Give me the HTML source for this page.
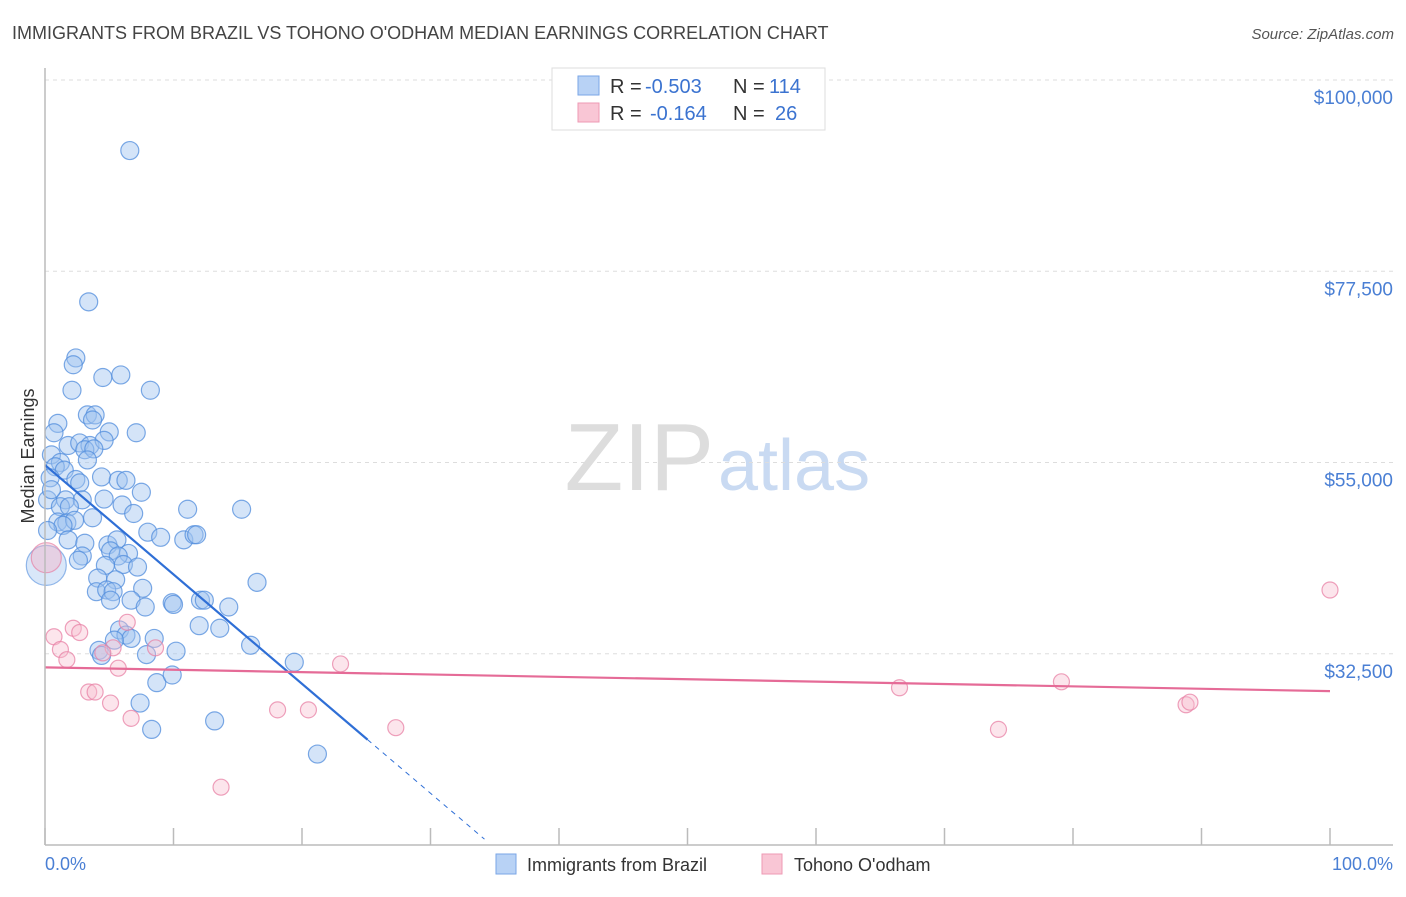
<!DOCTYPE html>
<html><head><meta charset="utf-8"><style>
body{margin:0;background:#fff;font-family:"Liberation Sans",sans-serif;}
svg text{font-family:"Liberation Sans",sans-serif;}
</style></head><body>
<svg id="chart" width="1406" height="892" xmlns="http://www.w3.org/2000/svg">
<text x="12" y="39" font-size="18" fill="#444">IMMIGRANTS FROM BRAZIL VS TOHONO O'ODHAM MEDIAN EARNINGS CORRELATION CHART</text>
<text x="1394" y="39" font-size="15" fill="#555" text-anchor="end" font-style="italic">Source: ZipAtlas.com</text>
<text x="714" y="490" font-size="96" fill="#ddd" text-anchor="end" font-family="Liberation Serif">ZIP</text>
<text x="718" y="490" font-size="72" fill="#c9daf2">atlas</text>
<g id="grid"></g><g id="pts"></g><g id="trend"></g>
<line x1="45" y1="68" x2="45" y2="845" stroke="#bbb" stroke-width="1.5"/>
<line x1="45" y1="845" x2="1393" y2="845" stroke="#bbb" stroke-width="1.5"/>
<g id="xticks"></g>
<text transform="translate(34,456) rotate(-90)" font-size="18" fill="#333" text-anchor="middle">Median Earnings</text>
<text x="45" y="870" font-size="18" fill="#4a7fd4">0.0%</text>
<text x="1393" y="870" font-size="18" fill="#4a7fd4" text-anchor="end">100.0%</text>
<g>
<rect x="552" y="68" width="273" height="62" fill="#fff" stroke="#ddd"/>
<rect x="578" y="76" width="21" height="19" fill="#b8d2f5" stroke="#7aa6e6"/>
<rect x="578" y="103" width="21" height="19" fill="#f9c6d5" stroke="#ee9ab4"/>
<text x="610" y="93" font-size="20" fill="#333">R =</text>
<text x="645" y="93" font-size="20" fill="#3b73d0">-0.503</text>
<text x="733" y="93" font-size="20" fill="#333">N =</text>
<text x="769" y="93" font-size="20" fill="#3b73d0">114</text>
<text x="610" y="120" font-size="20" fill="#333">R =</text>
<text x="650" y="120" font-size="20" fill="#3b73d0">-0.164</text>
<text x="733" y="120" font-size="20" fill="#333">N =</text>
<text x="775" y="120" font-size="20" fill="#3b73d0">26</text>
</g>
<g><rect x="496" y="854" width="20" height="20" fill="#b8d2f5" stroke="#7aa6e6"/><text x="527" y="871" font-size="18" fill="#333">Immigrants from Brazil</text></g>
<g><rect x="762" y="854" width="20" height="20" fill="#f9c6d5" stroke="#ee9ab4"/><text x="794" y="871" font-size="18" fill="#333">Tohono O'odham</text></g>
</svg>
<script>
const yTicks=[32500,55000,77500,100000];
const yTickLabels=["$32,500","$55,000","$77,500","$100,000"];
const xTicks=[0,10,20,30,40,50,60,70,80,90,100];
const brazilX=[6.6,3.4,2.4,2.2,4.5,5.9,2.1,8.2,1.0,3.3,3.9,3.7,0.7,5.0,7.1,1.8,2.7,3.5,4.6,3.1,3.8,0.5,1.2,3.3,0.8,1.5,0.4,2.4,2.7,4.4,5.7,6.3,7.5,0.2,1.6,2.9,4.6,1.2,1.9,6.0,11.1,15.3,6.9,3.7,1.0,1.7,2.3,1.4,8.0,9.0,10.8,11.6,11.8,1.8,3.1,4.9,5.6,5.1,6.5,2.9,2.6,5.7,4.7,6.1,7.2,4.1,5.5,16.5,4.0,4.8,5.3,7.6,5.1,6.7,9.9,10.0,12.1,12.4,7.8,14.3,12.0,13.6,5.8,6.3,6.7,8.5,5.4,16.0,4.2,4.4,7.9,10.2,19.4,8.7,9.9,7.4,8.3,13.2,21.2,0.2,0.5];
const brazilY=[91700,73900,67300,66500,65000,65300,63500,63500,59600,60600,60600,60000,58500,58600,58500,57000,57300,57000,57600,56500,56600,55900,55000,55300,54500,54100,53200,53000,52600,53300,52900,52900,51500,50600,50600,50600,50700,49800,49800,50000,49500,49500,49000,48500,48000,47900,48200,47600,46800,46200,45900,46500,46500,45900,45500,45300,45900,44600,44300,44000,43500,44000,42900,43000,42700,41400,41200,40900,39800,40000,39800,40200,38800,38800,38500,38300,38800,38800,38000,38000,35800,35500,35300,34700,34300,34300,34100,33500,32900,32300,32400,32800,31500,29100,30000,26700,23600,24600,20700,47000,51800];
const tohonoX=[0.7,2.2,2.7,1.2,1.7,6.4,5.3,4.5,5.7,8.6,3.4,3.9,5.1,6.7,18.1,20.5,23.0,27.3,13.7,66.5,74.2,79.1,88.8,89.1,100];
const tohonoY=[34500,35500,35000,33000,31800,36200,33200,32600,30800,33200,28000,28000,26700,24900,25900,25900,31300,23800,16800,28500,23600,29200,26500,26800,40000];
const bigBrazil=[0.1,42900];
const bigTohono=[0.1,43800];
const brazilTrend=[54700,-1287];
const tohonoTrend=[30900,-28];
const NS="http://www.w3.org/2000/svg";
const X=v=>45+v*12.85;
const Y=v=>845-(v-10000)*765/90000;
function mk(t,a,p){const e=document.createElementNS(NS,t);for(const k in a)e.setAttribute(k,a[k]);p.appendChild(e);return e;}
const grid=document.getElementById('grid');
yTicks.forEach((t,i)=>{
 const l=mk('line',{x1:45,x2:1393,y1:Y(t),y2:Y(t),stroke:'#ddd','stroke-dasharray':'4,4'},grid);
 
 
 const tx=mk('text',{x:1393,y:Y(t)+24,'font-size':19,fill:'#4a7fd4','text-anchor':'end'},grid);
 tx.textContent=yTickLabels[i];
 
 
});
const xt=document.getElementById('xticks');
xTicks.forEach(t=>{const l=mk('line',{x1:X(t),x2:X(t),y1:828,y2:845,stroke:'#bbb','stroke-width':1.5},xt);
 
 });
const pts=document.getElementById('pts');
function dot(x,y,r,f,s,n){const c=mk('circle',{cx:X(x),cy:Y(y),r:r,fill:f,stroke:s,'stroke-width':1.2},pts);
 
 }
dot(bigBrazil[0],bigBrazil[1],20,'rgba(160,195,240,0.4)','rgba(80,140,220,0.6)','brazil-point-large');
brazilX.forEach((x,i)=>dot(x,brazilY[i],9,'rgba(160,195,240,0.45)','rgba(80,140,220,0.75)','brazil-point'));
dot(bigTohono[0],bigTohono[1],15,'rgba(245,180,200,0.45)','rgba(230,130,165,0.7)','tohono-point-large');
tohonoX.forEach((x,i)=>dot(x,tohonoY[i],8,'rgba(248,190,208,0.4)','rgba(232,130,165,0.75)','tohono-point'));
const tr=document.getElementById('trend');
const bt=x=>brazilTrend[0]+brazilTrend[1]*x;
let l=mk('line',{x1:X(0),y1:Y(bt(0)),x2:X(25.1),y2:Y(bt(25.1)),stroke:'#2f6fd6','stroke-width':2.2},tr);


l=mk('line',{x1:X(25.1),y1:Y(bt(25.1)),x2:X(34.2),y2:Y(bt(34.2)),stroke:'#2f6fd6','stroke-width':1,'stroke-dasharray':'5,5'},tr);


const tt=x=>tohonoTrend[0]+tohonoTrend[1]*x;
l=mk('line',{x1:X(0),y1:Y(tt(0)),x2:X(100),y2:Y(tt(100)),stroke:'#e56b97','stroke-width':2.2},tr);


</script>
</body></html>
